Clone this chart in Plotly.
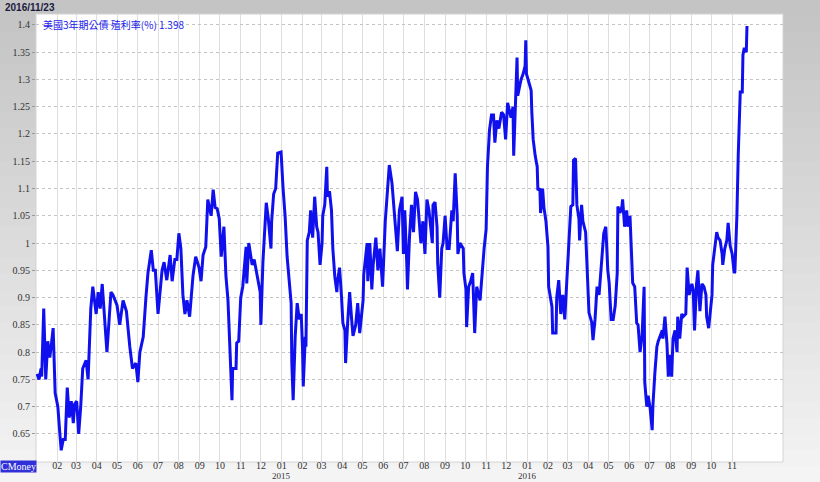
import plotly.graph_objects as go
import pandas as pd

# ---------------- data ----------------
dates_2014 = ["2014-01-02","2014-01-05","2014-01-08","2014-01-09","2014-01-12","2014-01-15","2014-01-18","2014-01-21","2014-01-23","2014-01-26","2014-01-29",
"2014-02-02","2014-02-05","2014-02-07","2014-02-10","2014-02-13","2014-02-16","2014-02-19","2014-02-22","2014-02-25","2014-02-27",
"2014-03-02","2014-03-05","2014-03-08","2014-03-11","2014-03-16","2014-03-19","2014-03-23","2014-03-26","2014-03-31",
"2014-04-03","2014-04-06","2014-04-09","2014-04-13","2014-04-16","2014-04-22","2014-04-25",
"2014-05-01","2014-05-05","2014-05-10","2014-05-15","2014-05-20","2014-05-24","2014-05-29",
"2014-06-01","2014-06-04","2014-06-09","2014-06-13","2014-06-16","2014-06-21","2014-06-24","2014-06-27",
"2014-07-01","2014-07-07","2014-07-10","2014-07-14","2014-07-19","2014-07-22","2014-07-26","2014-07-29",
"2014-08-01","2014-08-04","2014-08-07","2014-08-10","2014-08-13","2014-08-17","2014-08-22","2014-08-26","2014-08-31",
"2014-09-03","2014-09-06","2014-09-10","2014-09-13","2014-09-18","2014-09-21","2014-09-24","2014-09-27","2014-09-30",
"2014-10-03","2014-10-07","2014-10-10","2014-10-13","2014-10-16","2014-10-19","2014-10-20","2014-10-25","2014-10-26","2014-10-29",
"2014-11-01","2014-11-04","2014-11-09","2014-11-10","2014-11-13","2014-11-18","2014-11-21","2014-11-25","2014-11-30",
"2014-12-01","2014-12-04","2014-12-09","2014-12-12","2014-12-16","2014-12-17","2014-12-20","2014-12-23","2014-12-26","2014-12-31"]
yields_2014 = [0.76,0.75,0.77,0.755,0.88,0.75,0.82,0.79,0.81,0.844,0.725,
0.70,0.65,0.62,0.64,0.64,0.735,0.68,0.71,0.67,0.705,
0.71,0.65,0.70,0.77,0.785,0.75,0.88,0.92,0.87,
0.91,0.88,0.925,0.846,0.80,0.91,0.905,
0.886,0.85,0.895,0.875,0.81,0.77,0.78,
0.745,0.80,0.828,0.90,0.945,0.987,0.95,0.95,
0.87,0.95,0.965,0.932,0.978,0.93,0.97,0.97,
1.018,0.99,0.905,0.87,0.895,0.865,0.94,0.975,0.955,
0.93,0.978,0.993,1.08,1.05,1.098,1.065,1.063,1.045,
0.975,1.03,0.94,0.896,0.817,0.712,0.77,0.77,0.817,0.82,
0.90,0.92,0.993,0.926,1.0,0.96,0.97,0.94,0.91,
0.85,0.965,1.074,1.045,0.99,1.04,1.09,1.10,1.165,1.167]

dates_2015 = ["2015-01-03","2015-01-06","2015-01-09","2015-01-12","2015-01-15","2015-01-16","2015-01-18","2015-01-21","2015-01-24","2015-01-27","2015-01-30",
"2015-02-01","2015-02-02","2015-02-05","2015-02-06","2015-02-08","2015-02-11","2015-02-13","2015-02-16","2015-02-19","2015-02-22","2015-02-24","2015-02-27",
"2015-03-02","2015-03-03","2015-03-06","2015-03-09","2015-03-10","2015-03-13","2015-03-16","2015-03-18","2015-03-21","2015-03-24","2015-03-25","2015-03-28","2015-03-31",
"2015-04-02","2015-04-05","2015-04-06","2015-04-09","2015-04-12","2015-04-15","2015-04-17","2015-04-21","2015-04-24","2015-04-27",
"2015-05-02","2015-05-03","2015-05-08","2015-05-09","2015-05-12","2015-05-15","2015-05-17","2015-05-21","2015-05-24","2015-05-27","2015-05-31",
"2015-06-04","2015-06-07","2015-06-10","2015-06-14","2015-06-17","2015-06-22","2015-06-25","2015-06-29",
"2015-07-01","2015-07-03","2015-07-06","2015-07-07","2015-07-10","2015-07-13","2015-07-16","2015-07-19","2015-07-22","2015-07-27","2015-07-30",
"2015-08-02","2015-08-05","2015-08-08","2015-08-13","2015-08-14","2015-08-17","2015-08-20","2015-08-21","2015-08-24","2015-08-27","2015-08-29",
"2015-09-01","2015-09-04","2015-09-07","2015-09-11","2015-09-13","2015-09-16","2015-09-19","2015-09-20","2015-09-23","2015-09-28","2015-09-29",
"2015-10-02","2015-10-03","2015-10-06","2015-10-09","2015-10-12","2015-10-15","2015-10-18","2015-10-23","2015-10-26","2015-10-29",
"2015-11-01","2015-11-02","2015-11-03","2015-11-06","2015-11-09","2015-11-12","2015-11-14","2015-11-17","2015-11-20","2015-11-24","2015-11-27","2015-11-30",
"2015-12-03","2015-12-08","2015-12-11","2015-12-12","2015-12-14","2015-12-17","2015-12-18","2015-12-23","2015-12-26","2015-12-29","2015-12-30","2015-12-31"]
yields_2015 = [1.10,1.05,0.975,0.927,0.89,0.78,0.712,0.828,0.89,0.86,0.87,
0.804,0.737,0.828,0.81,1.005,1.02,1.06,1.01,1.085,1.03,1.02,0.96,
1.0,1.05,1.07,1.14,1.085,1.095,1.06,0.99,0.938,0.91,0.93,0.955,0.90,
0.853,0.84,0.78,0.853,0.91,0.86,0.83,0.85,0.89,0.835,
0.895,0.942,1.0,0.93,1.0,0.915,0.96,1.01,0.95,0.99,0.92,
1.04,1.09,1.143,1.11,1.065,0.985,1.06,1.085,
0.98,1.06,0.963,0.915,1.01,1.07,1.02,1.094,1.08,1.0,1.04,
0.98,1.08,1.06,1.0,1.07,1.075,1.03,0.963,0.90,0.99,1.0,
1.05,0.99,0.99,1.06,1.04,1.128,1.05,0.98,1.0,0.99,0.945,
0.915,0.846,0.92,0.93,0.945,0.835,0.92,0.895,0.945,0.99,
1.025,1.07,1.14,1.207,1.235,1.235,1.184,1.225,1.21,1.24,1.235,1.19,
1.257,1.23,1.25,1.16,1.25,1.34,1.27,1.30,1.31,1.325,1.372,1.31]

dates_2016 = ["2016-01-04","2016-01-07","2016-01-08","2016-01-10","2016-01-13","2016-01-16","2016-01-17","2016-01-20","2016-01-21","2016-01-24","2016-01-26","2016-01-29",
"2016-02-01","2016-02-02","2016-02-07","2016-02-08","2016-02-13","2016-02-14","2016-02-17","2016-02-20","2016-02-23","2016-02-26","2016-02-29",
"2016-03-02","2016-03-06","2016-03-09","2016-03-10","2016-03-13","2016-03-15","2016-03-18","2016-03-19","2016-03-22","2016-03-24","2016-03-28","2016-03-30",
"2016-04-02","2016-04-06","2016-04-08","2016-04-11","2016-04-14","2016-04-17","2016-04-21","2016-04-24","2016-04-27","2016-04-30",
"2016-05-02","2016-05-05","2016-05-08","2016-05-11","2016-05-14","2016-05-15","2016-05-18","2016-05-21","2016-05-22","2016-05-25","2016-05-28","2016-05-30",
"2016-06-02","2016-06-05","2016-06-06","2016-06-09","2016-06-12","2016-06-14","2016-06-17","2016-06-20","2016-06-21","2016-06-23","2016-06-24","2016-06-27","2016-06-29",
"2016-07-02","2016-07-05","2016-07-06","2016-07-09","2016-07-12","2016-07-14","2016-07-17","2016-07-20","2016-07-21","2016-07-24","2016-07-27","2016-07-29",
"2016-08-01","2016-08-03","2016-08-05","2016-08-08","2016-08-11","2016-08-12","2016-08-15","2016-08-18","2016-08-20","2016-08-24","2016-08-26","2016-08-29",
"2016-09-02","2016-09-04","2016-09-06","2016-09-09","2016-09-11","2016-09-14","2016-09-17","2016-09-20","2016-09-23","2016-09-24","2016-09-27",
"2016-10-02","2016-10-03","2016-10-06","2016-10-09","2016-10-11","2016-10-14","2016-10-17","2016-10-18","2016-10-21","2016-10-24","2016-10-26","2016-10-29",
"2016-11-01","2016-11-04","2016-11-05","2016-11-08","2016-11-10","2016-11-13","2016-11-16","2016-11-17","2016-11-19","2016-11-22","2016-11-23"]
yields_2016 = [1.293,1.28,1.24,1.19,1.16,1.14,1.097,1.10,1.055,1.10,1.065,1.04,
0.993,0.92,0.883,0.835,0.835,0.90,0.932,0.87,0.905,0.86,0.93,
0.98,1.067,1.07,1.152,1.155,1.07,1.045,1.005,1.07,1.04,1.02,0.945,
0.872,0.855,0.822,0.86,0.92,0.905,0.97,1.018,1.03,0.95,
0.927,0.86,0.86,0.885,0.945,1.067,1.055,1.067,1.08,1.03,1.06,1.03,
1.05,0.932,0.927,0.92,0.853,0.85,0.80,0.83,0.875,0.92,0.744,0.70,0.72,
0.697,0.657,0.70,0.762,0.81,0.82,0.83,0.84,0.825,0.865,0.815,0.755,
0.795,0.755,0.825,0.84,0.80,0.865,0.825,0.87,0.865,0.87,0.955,0.905,
0.925,0.915,0.84,0.925,0.95,0.875,0.925,0.92,0.905,0.865,0.844,
0.905,0.96,0.993,1.02,1.01,1.005,0.98,0.96,0.99,1.005,1.037,0.995,
0.98,0.945,0.947,1.05,1.16,1.277,1.277,1.345,1.358,1.35,1.398]

series_name = "美國3年期公債 殖利率(%)"
last_value = "1.398"
header_date = "2016/11/23"

y_tick_vals = [0.65, 0.7, 0.75, 0.8, 0.85, 0.9, 0.95, 1.0, 1.05, 1.1, 1.15, 1.2, 1.25, 1.3, 1.35, 1.4]
y_tick_text = ["0.65", "0.7", "0.75", "0.8", "0.85", "0.9", "0.95", "1", "1.05", "1.1", "1.15", "1.2", "1.25", "1.3", "1.35", "1.4"]

x_tick_vals = [d.strftime("%Y-%m-%d") for d in pd.date_range("2014-02-01", "2016-11-01", freq="MS")]
x_tick_text = [d[5:7] for d in x_tick_vals]
year_label_dates = ["2015-01-01", "2016-01-01"]
year_labels = ["2015", "2016"]

dates = dates_2014 + dates_2015 + dates_2016
yields = yields_2014 + yields_2015 + yields_2016

# ---------------- figure ----------------
W, H = 820, 482
ML, MR, MT, MB = 36, 37, 14, 20
PW, PH = W - ML - MR, H - MT - MB

fig = go.Figure()
fig.add_trace(go.Scatter(x=dates, y=yields, mode="lines",
                         line=dict(color="#1010ee", width=3),
                         hoverinfo="x+y", showlegend=False))

# background gradient (vertical) around the plot area
shapes = []
N = 30
x0p, x1p = -ML / PW, 1 + MR / PW
for i in range(N):
    t = i / (N - 1)
    top_px = i * H / N
    bot_px = (i + 1) * H / N
    y1 = 1 + (MT - top_px) / PH
    y0 = 1 + (MT - bot_px) / PH
    c = int(196 + (244 - 196) * t)
    shapes.append(dict(type="rect", xref="paper", yref="paper", x0=x0p, x1=x1p,
                       y0=y0 - 0.002, y1=y1, fillcolor=f"rgb({c},{c},{c})",
                       line=dict(width=0), layer="below"))
shapes.append(dict(type="rect", xref="paper", yref="paper", x0=0, x1=1, y0=0, y1=1,
                   fillcolor="white", line=dict(color="#d4d4d4", width=1), layer="below"))

annotations = [
    dict(text=header_date, xref="paper", yref="paper", x=(3 - ML) / PW, y=1 + (MT - 7) / PH,
         xanchor="left", yanchor="middle", showarrow=False,
         font=dict(family="Liberation Sans, Arial", size=10, color="#1a1a40", weight="bold")),
    dict(text=f"{series_name} {last_value}", xref="paper", yref="paper", x=(41 - ML) / PW,
         y=1 - (25 - MT) / PH, xanchor="left", yanchor="middle", showarrow=False,
         font=dict(family="Noto Sans CJK TC, Liberation Serif", size=10, color="#1a1aee")),
    dict(text="CMoney", xref="paper", yref="paper", x=-ML / PW, y=-(466 - (H - MB)) / PH,
         xanchor="left", yanchor="middle", showarrow=False, bgcolor="#3030d8",
         borderpad=0, font=dict(family="Liberation Serif", size=10, color="white")),
]
for d, lab in zip(year_label_dates, year_labels):
    annotations.append(dict(text=lab, xref="x", yref="paper", x=d, y=-(482 - (H - MB)) / PH,
                            xanchor="center", yanchor="bottom", showarrow=False,
                            borderpad=0, font=dict(family="Liberation Serif", size=9, color="#333333")))

fig.update_layout(
    width=W, height=H,
    margin=dict(l=ML, r=MR, t=MT, b=MB, pad=0, autoexpand=False),
    paper_bgcolor="#e2e2e2", plot_bgcolor="white",
    shapes=shapes, annotations=annotations,
    font=dict(family="Liberation Serif", size=10, color="#333333"),
    xaxis=dict(type="date", range=["2013-12-31 12:00", "2017-01-15 14:00"],
               tickvals=x_tick_vals, ticktext=x_tick_text, tickangle=0,
               ticklabelstandoff=-4,
               showgrid=True, gridcolor="#dedede", gridwidth=1,
               ticks="", showline=False, zeroline=False, automargin=False,
               tickfont=dict(family="Liberation Serif", size=10, color="#333333")),
    yaxis=dict(range=[0.5986, 1.420], tickvals=y_tick_vals, ticktext=y_tick_text,
               showgrid=True, gridcolor="#c4c4c4", griddash="dot", gridwidth=1,
               ticks="outside", ticklen=3, tickcolor="#999999",
               showline=False, zeroline=False, automargin=False,
               tickfont=dict(family="Liberation Serif", size=10, color="#333333")),
)

fig.write_html("out.html", config={"displayModeBar": False},
               post_script="document.body.style.margin='0px';document.body.style.overflow='hidden';")
